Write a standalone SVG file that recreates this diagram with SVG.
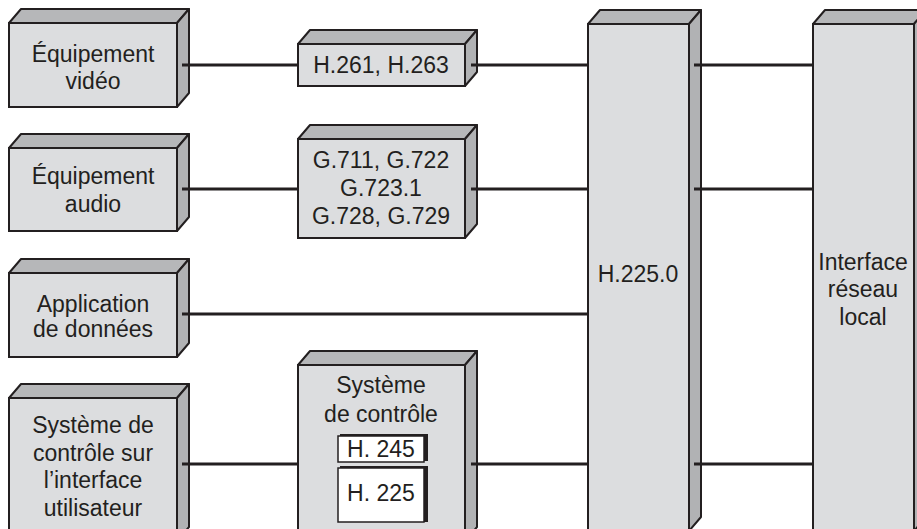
<svg xmlns="http://www.w3.org/2000/svg" width="917" height="529" viewBox="0 0 917 529">
<style>
.front{fill:#dcdddf;stroke:#231f20;stroke-width:2}
.top{fill:#b6b7b9;stroke:#231f20;stroke-width:2;stroke-linejoin:round}
.side{fill:#b1b2b4;stroke:#231f20;stroke-width:2;stroke-linejoin:round}
.lbl{font-family:"Liberation Sans",Arial,Helvetica,sans-serif;font-size:23px;fill:#231f20;text-anchor:middle}
.conn{stroke:#231f20;stroke-width:3;fill:none}
.inner{fill:#ffffff;stroke:#231f20;stroke-width:1.5}
.shadow{fill:#231f20}
</style>
<rect width="917" height="529" fill="#ffffff"/>
<g id="connectors">
<line class="conn" x1="182" y1="65" x2="298" y2="65"/>
<line class="conn" x1="471" y1="65" x2="588" y2="65"/>
<line class="conn" x1="694" y1="65" x2="813" y2="65"/>
<line class="conn" x1="182" y1="189" x2="298" y2="189"/>
<line class="conn" x1="471" y1="189" x2="588" y2="189"/>
<line class="conn" x1="694" y1="189" x2="813" y2="189"/>
<line class="conn" x1="182" y1="314" x2="588" y2="314"/>
<line class="conn" x1="182" y1="464" x2="298" y2="464"/>
<line class="conn" x1="471" y1="464" x2="588" y2="464"/>
<line class="conn" x1="694" y1="464" x2="813" y2="464"/>
</g>
<g id="video">
<polygon class="top" points="9,23 21,9 189,9 177,23"/>
<polygon class="side" points="177,23 189,9 189,93 177,107"/>
<rect class="front" x="9" y="23" width="168" height="84"/>
<line class="conn" x1="182" y1="65" x2="190" y2="65"/>
<text class="lbl" x="93" y="62">Équipement</text>
<text class="lbl" x="93" y="89">vidéo</text>
</g>
<g id="audio">
<polygon class="top" points="9,148 21,134 189,134 177,148"/>
<polygon class="side" points="177,148 189,134 189,217 177,231"/>
<rect class="front" x="9" y="148" width="168" height="83"/>
<line class="conn" x1="182" y1="189" x2="190" y2="189"/>
<text class="lbl" x="93" y="184">Équipement</text>
<text class="lbl" x="93" y="212">audio</text>
</g>
<g id="data">
<polygon class="top" points="9,273 21,259 189,259 177,273"/>
<polygon class="side" points="177,273 189,259 189,343 177,357"/>
<rect class="front" x="9" y="273" width="168" height="84"/>
<line class="conn" x1="182" y1="314" x2="190" y2="314"/>
<text class="lbl" x="93" y="312">Application</text>
<text class="lbl" x="93" y="337">de données</text>
</g>
<g id="ui-control">
<polygon class="top" points="9,398 21,384 189,384 177,398"/>
<polygon class="side" points="177,398 189,384 189,527 177,541"/>
<rect class="front" x="9" y="398" width="168" height="143"/>
<line class="conn" x1="182" y1="464" x2="190" y2="464"/>
<text class="lbl" x="93" y="433">Système de</text>
<text class="lbl" x="93" y="461">contrôle sur</text>
<text class="lbl" x="93" y="488">l’interface</text>
<text class="lbl" x="93" y="516">utilisateur</text>
</g>
<g id="video-codec">
<polygon class="top" points="298,44 310,30 477,30 465,44"/>
<polygon class="side" points="465,44 477,30 477,72 465,86"/>
<rect class="front" x="298" y="44" width="167" height="42"/>
<line class="conn" x1="471" y1="65" x2="478" y2="65"/>
<text class="lbl" x="381" y="73">H.261, H.263</text>
</g>
<g id="audio-codec">
<polygon class="top" points="298,139 310,125 477,125 465,139"/>
<polygon class="side" points="465,139 477,125 477,224 465,238"/>
<rect class="front" x="298" y="139" width="167" height="99"/>
<line class="conn" x1="471" y1="189" x2="478" y2="189"/>
<text class="lbl" x="381" y="168">G.711, G.722</text>
<text class="lbl" x="381" y="196">G.723.1</text>
<text class="lbl" x="381" y="224">G.728, G.729</text>
</g>
<g id="control-system">
<polygon class="top" points="298,365 310,351 477,351 465,365"/>
<polygon class="side" points="465,365 477,351 477,527 465,541"/>
<rect class="front" x="298" y="365" width="167" height="176"/>
<line class="conn" x1="471" y1="464" x2="478" y2="464"/>
<text class="lbl" x="381" y="393">Système</text>
<text class="lbl" x="381" y="422">de contrôle</text>
<rect class="shadow" x="340" y="434" width="88" height="27"/>
<rect class="inner" x="338" y="436" width="86" height="26"/>
<text class="lbl" x="381" y="457">H. 245</text>
<rect class="shadow" x="340" y="466" width="88" height="56"/>
<rect class="inner" x="338" y="468" width="86" height="54"/>
<text class="lbl" x="381" y="501">H. 225</text>
</g>
<g id="h2250">
<polygon class="top" points="588,24 600,10 701,10 689,24"/>
<polygon class="side" points="689,24 701,10 701,517 689,531"/>
<rect class="front" x="588" y="24" width="101" height="507"/>
<line class="conn" x1="694" y1="65" x2="702" y2="65"/>
<line class="conn" x1="694" y1="189" x2="702" y2="189"/>
<line class="conn" x1="694" y1="464" x2="702" y2="464"/>
<text class="lbl" x="638" y="282">H.225.0</text>
</g>
<g id="lan-interface">
<polygon class="top" points="813,24 825,10 926,10 914,24"/>
<polygon class="side" points="914,24 926,10 926,517 914,531"/>
<rect class="front" x="813" y="24" width="101" height="507"/>
<text class="lbl" x="863" y="270">Interface</text>
<text class="lbl" x="863" y="297">réseau</text>
<text class="lbl" x="863" y="325">local</text>
</g>
</svg>
